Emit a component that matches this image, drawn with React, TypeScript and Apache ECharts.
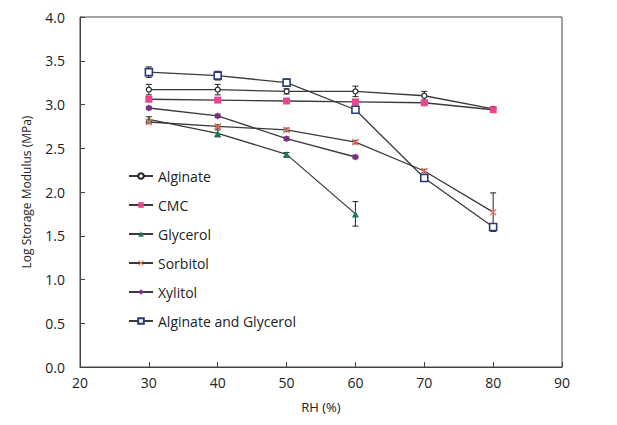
import React, { useEffect, useRef } from "react";
import * as echarts from "echarts";

const rh = [30, 40, 50, 60, 70, 80];

const alginate = [3.17, 3.17, 3.15, 3.15, 3.1, 2.95];
const alginateErr = [0.06, 0.06, 0.03, 0.06, 0.05, 0.02];

const cmc = [3.06, 3.05, 3.04, 3.03, 3.02, 2.94];
const cmcErr = [0.02, 0.02, 0.02, 0.02, 0.02, 0.03];

const glycerolX = [30, 40, 50, 60];
const glycerol = [2.83, 2.67, 2.43, 1.75];
const glycerolErr = [0.03, 0.04, 0.02, 0.14];

const sorbitol = [2.8, 2.75, 2.71, 2.57, 2.24, 1.77];
const sorbitolErr = [0.02, 0.02, 0.02, 0.02, 0.02, 0.22];

const xylitolX = [30, 40, 50, 60];
const xylitol = [2.96, 2.87, 2.61, 2.4];
const xylitolErr = [0.02, 0.02, 0.02, 0.02];

const algGly = [3.37, 3.33, 3.25, 2.94, 2.16, 1.6];
const algGlyErr = [0.06, 0.05, 0.04, 0.04, 0.03, 0.03];

const FONT = "Open Sans";
const LINE = "#3a3a3a";

const zip = (xs: number[], ys: number[]) => xs.map((x, i) => [x, ys[i]]);
const errData = (xs: number[], ys: number[], es: number[]) =>
  xs.map((x, i) => [x, ys[i] - es[i], ys[i] + es[i]]);

const crossPath =
  "path://M0,1.3L1.3,0L5,3.7L8.7,0L10,1.3L6.3,5L10,8.7L8.7,10L5,6.3L1.3,10L0,8.7L3.7,5Z";

function errorSeries(data: number[][]) {
  return {
    type: "custom",
    silent: true,
    z: 1,
    data,
    renderItem: (params: any, api: any) => {
      const x = api.value(0);
      const lo = api.coord([x, api.value(1)]);
      const hi = api.coord([x, api.value(2)]);
      const w = 3;
      const style = { stroke: "#222", lineWidth: 1 };
      return {
        type: "group",
        children: [
          { type: "line", shape: { x1: lo[0], y1: lo[1], x2: hi[0], y2: hi[1] }, style },
          { type: "line", shape: { x1: lo[0] - w, y1: lo[1], x2: lo[0] + w, y2: lo[1] }, style },
          { type: "line", shape: { x1: hi[0] - w, y1: hi[1], x2: hi[0] + w, y2: hi[1] }, style },
        ],
      };
    },
  };
}

function lineSeries(name: string, data: number[][], symbol: string, size: number, itemStyle: any) {
  return {
    name,
    type: "line",
    data,
    symbol,
    symbolSize: size,
    showAllSymbol: true,
    z: 3,
    lineStyle: { color: LINE, width: 1.3 },
    itemStyle,
  };
}

export default function App() {
  const ref = useRef<HTMLDivElement>(null);
  useEffect(() => {
    const chart = echarts.init(ref.current!, null, { renderer: "svg" });
    chart.setOption({
      animation: false,
      backgroundColor: "#fff",
      textStyle: { fontFamily: FONT },
      grid: {
        left: 72,
        right: 47,
        top: 9,
        bottom: 50,
        containLabel: false,
        outerBoundsMode: "none",
        show: true,
        borderColor: "#444",
        borderWidth: 1,
      },
      legend: {
        orient: "vertical",
        left: 115,
        top: 156,
        itemGap: 15,
        itemWidth: 24,
        itemHeight: 7,
        textStyle: { fontFamily: FONT, fontSize: 14, color: "#222" },
        data: ["Alginate", "CMC", "Glycerol", "Sorbitol", "Xylitol", "Alginate and Glycerol"],
      },
      xAxis: {
        type: "value",
        min: 20,
        max: 90,
        interval: 10,
        name: "RH (%)",
        nameLocation: "middle",
        nameGap: 33,
        nameTextStyle: { fontFamily: FONT, fontSize: 13, color: "#222" },
        axisLine: { lineStyle: { color: "#444" } },
        axisTick: { inside: true, length: 5, lineStyle: { color: "#444" } },
        axisLabel: { fontFamily: FONT, fontSize: 14, color: "#222", margin: 8 },
        splitLine: { show: false },
      },
      yAxis: {
        type: "value",
        min: 0,
        max: 4,
        interval: 0.5,
        name: "Log Storage Modulus (MPa)",
        nameLocation: "middle",
        nameRotate: 90,
        nameGap: 48,
        nameTextStyle: { fontFamily: FONT, fontSize: 12, color: "#222" },
        axisLine: { show: true, lineStyle: { color: "#444" } },
        axisTick: { show: true, inside: true, length: 5, lineStyle: { color: "#444" } },
        axisLabel: {
          fontFamily: FONT,
          fontSize: 14,
          color: "#222",
          margin: 15,
          formatter: (v: number) => v.toFixed(1),
        },
        splitLine: { show: false },
      },
      series: [
        errorSeries(errData(rh, alginate, alginateErr)),
        errorSeries(errData(rh, cmc, cmcErr)),
        errorSeries(errData(glycerolX, glycerol, glycerolErr)),
        errorSeries(errData(rh, sorbitol, sorbitolErr)),
        errorSeries(errData(xylitolX, xylitol, xylitolErr)),
        errorSeries(errData(rh, algGly, algGlyErr)),
        lineSeries("Alginate", zip(rh, alginate), "circle", 5, {
          color: "#fff",
          borderColor: "#222",
          borderWidth: 1.2,
        }),
        lineSeries("CMC", zip(rh, cmc), "rect", 7, { color: "#e8478f", borderWidth: 0 }),
        lineSeries("Glycerol", zip(glycerolX, glycerol), "triangle", 7, { color: "#1b7a57" }),
        lineSeries("Sorbitol", zip(rh, sorbitol), crossPath, 7, { color: "#f2765c" }),
        lineSeries("Xylitol", zip(xylitolX, xylitol), "diamond", 7, { color: "#7c2c8c" }),
        lineSeries("Alginate and Glycerol", zip(rh, algGly), "rect", 7, {
          color: "#fff",
          borderColor: "#2b3b78",
          borderWidth: 1.6,
        }),
      ],
    });
    return () => chart.dispose();
  }, []);
  return <div ref={ref} style={{ width: 601, height: 409 }} />;
}
